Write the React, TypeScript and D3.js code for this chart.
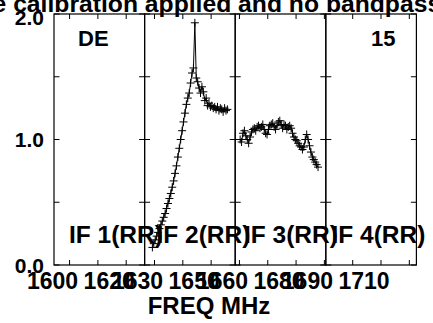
import React, { useRef, useEffect } from 'react';
import * as d3 from 'd3';

// POSSM-style amplitude spectrum, 4 IFs of 32 MHz / 64 channels each
const ifLabels = ['IF 1(RR)', 'IF 2(RR)', 'IF 3(RR)', 'IF 4(RR)'];
const ifStartFreqs = [1594.5, 1626.5, 1658.5, 1690.5];
const ifBandwidth = 32;
const nChannels = 64;
const xTickLabels = [[1600, 1620], [1630, 1650], [1660, 1680], [1690, 1710]];
const yTickValues = [0, 0.5, 1.0, 1.5, 2.0];
const yTickLabels = [0, 1.0, 2.0];

// first unflagged channel and amplitudes per IF
const if1FirstChan = 0;
const if1Amp: number[] = [];
const if2FirstChan = 5;
const if2Amp = [
  0.14, 0.17, 0.20, 0.23, 0.26, 0.29, 0.32, 0.35, 0.38, 0.41,
  0.45, 0.49, 0.53, 0.57, 0.62, 0.67, 0.73, 0.79, 0.86, 0.93,
  1.00, 1.07, 1.14, 1.21, 1.28, 1.33, 1.37, 1.45, 1.53, 1.57,
  1.93, 1.49, 1.46, 1.41, 1.37, 1.42, 1.38, 1.31, 1.33, 1.27,
  1.29, 1.26, 1.27, 1.25, 1.26, 1.24, 1.26, 1.23, 1.25, 1.24,
  1.22, 1.25, 1.23, 1.24,
];
const if3FirstChan = 3;
const if3Amp = [
  1.00, 0.98, 1.05, 1.07, 1.03, 1.00, 0.97, 1.02, 1.06, 1.08,
  1.09, 1.07, 1.10, 1.11, 1.09, 1.10, 1.12, 1.08, 1.05, 1.04,
  1.08, 1.11, 1.12, 1.13, 1.10, 1.08, 1.11, 1.14, 1.15, 1.12,
  1.09, 1.12, 1.11, 1.08, 1.10, 1.11, 1.09, 1.05, 1.02, 1.00,
  0.99, 0.97, 0.95, 0.94, 0.92, 0.94, 1.00, 1.04, 1.00, 0.95,
  0.90, 0.86, 0.84, 0.82, 0.80, 0.78,
];
const if4FirstChan = 0;
const if4Amp: number[] = [];

const firstChans = [if1FirstChan, if2FirstChan, if3FirstChan, if4FirstChan];
const amps = [if1Amp, if2Amp, if3Amp, if4Amp];

const FONT = '"Liberation Sans", Arial, sans-serif';

export default function App() {
  const ref = useRef<SVGSVGElement>(null);

  useEffect(() => {
    if (!ref.current) return;
    const svg = d3.select(ref.current);
    svg.selectAll('*').remove();

    const left = 54;
    const panelW = 90.6;
    const top = 14;
    const bottom = 265;

    const y = d3.scaleLinear().domain([0, 2]).range([bottom, top]);

    const bold = (sel: any, size: number) => sel
      .style('font-family', FONT)
      .style('font-weight', 'bold')
      .style('font-size', `${size}px`);

    // title (clipped by the page edges as in the original)
    bold(svg.append('text'), 24.7)
      .attr('x', 210)
      .attr('y', 12)
      .attr('text-anchor', 'middle')
      .text('Amplitude calibration applied and no bandpass applied');

    // y labels
    yTickLabels.forEach(v => {
      bold(svg.append('text'), 21)
        .attr('x', 44)
        .attr('y', Math.max(y(v), 17.5) + 7.5)
        .attr('text-anchor', 'end')
        .text(v.toFixed(1));
    });

    ifStartFreqs.forEach((f0, i) => {
      const x0 = left + i * panelW;
      const x = d3.scaleLinear().domain([f0, f0 + ifBandwidth]).range([x0, x0 + panelW]);
      const g = svg.append('g');

      g.append('rect')
        .attr('x', x0).attr('y', top)
        .attr('width', panelW).attr('height', bottom - top)
        .attr('fill', 'none').attr('stroke', '#000').attr('stroke-width', 1.2);

      // y ticks, inward on both sides
      yTickValues.forEach(v => {
        g.append('line').attr('x1', x0).attr('x2', x0 + 5.5)
          .attr('y1', y(v)).attr('y2', y(v)).attr('stroke', '#000');
        g.append('line').attr('x1', x0 + panelW - 5.5).attr('x2', x0 + panelW)
          .attr('y1', y(v)).attr('y2', y(v)).attr('stroke', '#000');
      });

      // x ticks top and bottom
      x.ticks(3).forEach(t => {
        g.append('line').attr('x1', x(t)).attr('x2', x(t))
          .attr('y1', bottom).attr('y2', bottom - 5).attr('stroke', '#000');
        g.append('line').attr('x1', x(t)).attr('x2', x(t))
          .attr('y1', top).attr('y2', top + 5).attr('stroke', '#000');
      });

      xTickLabels[i].forEach(t => {
        bold(g.append('text'), 23)
          .attr('x', x(t) - 17)
          .attr('y', 289)
          .attr('text-anchor', 'middle')
          .text(t);
      });

      // data
      const chanW = ifBandwidth / nChannels;
      const pts = amps[i].map((a, k) => [x(f0 + (firstChans[i] + k + 0.5) * chanW), y(a)] as [number, number]);
      if (pts.length) {
        g.append('path')
          .attr('d', d3.line()(pts))
          .attr('fill', 'none').attr('stroke', '#000').attr('stroke-width', 1);
        g.selectAll('.mk').data(pts).enter().append('path')
          .attr('d', d => `M${d[0] - 4},${d[1]}H${d[0] + 4}M${d[0]},${d[1] - 4}V${d[1] + 4}`)
          .attr('stroke', '#000').attr('stroke-width', 1);
      }

      bold(g.append('text'), 24.5)
        .attr('x', 69 + i * 87.5)
        .attr('y', 243)
        .text(ifLabels[i]);
    });

    // corner labels
    bold(svg.append('text'), 22).attr('x', 78).attr('y', 46).text('DE');
    bold(svg.append('text'), 22).attr('x', 371).attr('y', 46).text('15');

    bold(svg.append('text'), 24).attr('x', 209).attr('y', 314)
      .attr('text-anchor', 'middle')
      .text('FREQ MHz');
  }, []);

  return (
    <svg ref={ref} width={433} height={323}
      style={{ position: 'absolute', left: 0, top: 0, background: '#fff' }} />
  );
}
